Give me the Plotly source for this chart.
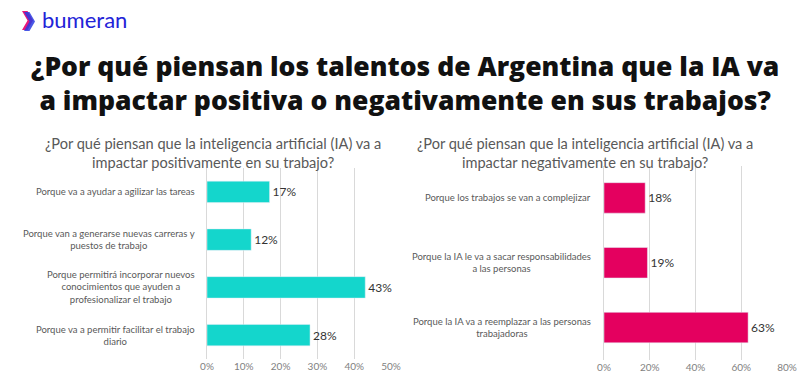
import plotly.graph_objects as go

W, H = 800, 389

pos_labels = [
    "Porque va a ayudar a agilizar las tareas",
    "Porque van a generarse nuevas carreras y<br>puestos de trabajo",
    "Porque permitirá incorporar nuevos<br>conocimientos que ayuden a<br>profesionalizar el trabajo",
    "Porque va a permitir facilitar el trabajo<br>diario",
]
pos_values = [17, 12, 43, 28]

neg_labels = [
    "Porque los trabajos se van a complejizar",
    "Porque la IA le va a sacar responsabilidades<br>a las personas",
    "Porque la IA va a reemplazar a las personas<br>trabajadoras",
]
neg_values = [18, 19, 63]

pos_ticks = [0, 10, 20, 30, 40, 50]
neg_ticks = [0, 20, 40, 60, 80]

main_title = "¿Por qué piensan los talentos de Argentina que la IA va<br>a impactar positiva o negativamente en sus trabajos?"
pos_title = "¿Por qué piensan que la inteligencia artificial (IA) va a<br>impactar positivamente en su trabajo?"
neg_title = "¿Por qué piensan que la inteligencia artificial (IA) va a<br>impactar negativamente en su trabajo?"

TEAL = "#14d6cc"
MAGENTA = "#e4005f"
GRID = "#d9d9d9"
FONT = "Lato"


def px(x):
    return x / W


def py(y):
    return 1 - y / H


fig = go.Figure()
fig.add_trace(go.Bar(
    x=pos_values, y=pos_labels, orientation="h", marker_color=TEAL, width=0.45,
    text=[f"{v}%" for v in pos_values], textposition="outside",
    textfont=dict(family=FONT, size=12, color="#333333"), cliponaxis=False,
    xaxis="x", yaxis="y", hoverinfo="skip",
))
fig.add_trace(go.Bar(
    x=neg_values, y=neg_labels, orientation="h", marker_color=MAGENTA, width=0.47,
    text=[f"{v}%" for v in neg_values], textposition="outside",
    textfont=dict(family=FONT, size=12, color="#333333"), cliponaxis=False,
    xaxis="x2", yaxis="y2", hoverinfo="skip",
))

axis_common = dict(showgrid=True, gridcolor=GRID, gridwidth=1, zeroline=False,
                   showline=False, ticks="", automargin=False, fixedrange=True,
                   tickfont=dict(family=FONT, size=10, color="#7f7f7f"),
                   tickmode="array")

fig.update_layout(
    width=W, height=H,
    margin=dict(l=0, r=0, t=0, b=0),
    paper_bgcolor="white", plot_bgcolor="white",
    showlegend=False, bargap=0.5,
    xaxis=dict(domain=[px(207), px(391)], range=[0, 50], tickvals=pos_ticks,
               ticktext=[f"{t}%" for t in pos_ticks], anchor="y", **axis_common),
    yaxis=dict(domain=[py(359), py(168)], autorange="reversed", showticklabels=False,
               showgrid=False, zeroline=False, showline=True, linecolor=GRID,
               automargin=False, anchor="x", fixedrange=True),
    xaxis2=dict(domain=[px(604), px(787)], range=[0, 80], tickvals=neg_ticks,
                ticktext=[f"{t}%" for t in neg_ticks], anchor="y2", **axis_common),
    yaxis2=dict(domain=[py(360), py(165.5)], autorange="reversed", showticklabels=False,
                showgrid=False, zeroline=False, showline=True, linecolor=GRID,
                automargin=False, anchor="x2", fixedrange=True),
)

annotations = []
for lab in pos_labels:
    annotations.append(dict(text=lab, x=px(197), xref="paper", y=lab, yref="y",
                            xanchor="right", yanchor="middle", align="center",
                            showarrow=False,
                            font=dict(family=FONT, size=9.5, color="#595959")))
for lab in neg_labels:
    annotations.append(dict(text=lab, x=px(593), xref="paper", y=lab, yref="y2",
                            xanchor="right", yanchor="middle", align="center",
                            showarrow=False,
                            font=dict(family=FONT, size=9.5, color="#595959")))

annotations.append(dict(text=pos_title, x=px(213), y=py(153.5), xref="paper", yref="paper",
                        xanchor="center", yanchor="middle", align="center", showarrow=False,
                        font=dict(family=FONT, size=14.6, color="#595959")))
annotations.append(dict(text=neg_title, x=px(585), y=py(153.5), xref="paper", yref="paper",
                        xanchor="center", yanchor="middle", align="center", showarrow=False,
                        font=dict(family=FONT, size=14.6, color="#595959")))
annotations.append(dict(text=main_title, x=px(405), y=py(83), xref="paper", yref="paper",
                        xanchor="center", yanchor="middle", align="center", showarrow=False,
                        font=dict(family="Open Sans", size=26.5, color="#111111", weight=800)))
annotations.append(dict(text="bumeran", x=px(40), y=py(20), xref="paper", yref="paper",
                        xanchor="left", yanchor="middle", showarrow=False,
                        font=dict(family=FONT, size=22, color="#2323d8")))
fig.update_layout(annotations=annotations)


def chevron(x0, y0, w, h, t):
    pts = [(x0, y0), (x0 + t, y0), (x0 + w, y0 + h / 2), (x0 + t, y0 + h), (x0, y0 + h),
           (x0 + w - t, y0 + h / 2)]
    return "M " + " L ".join(f"{px(a):.5f},{py(b):.5f}" for a, b in pts) + " Z"


fig.update_layout(shapes=[
    dict(type="path", path=chevron(22, 11, 11, 19, 5.5), xref="paper", yref="paper",
         fillcolor="#e8177a", line=dict(width=0)),
    dict(type="path", path=chevron(24, 12, 11, 19, 5.5), xref="paper", yref="paper",
         fillcolor="#2a3be0", line=dict(width=0), opacity=0.85),
])

fig.write_html("out.html", config={"displayModeBar": False},
               post_script="document.body.style.margin='0';")
